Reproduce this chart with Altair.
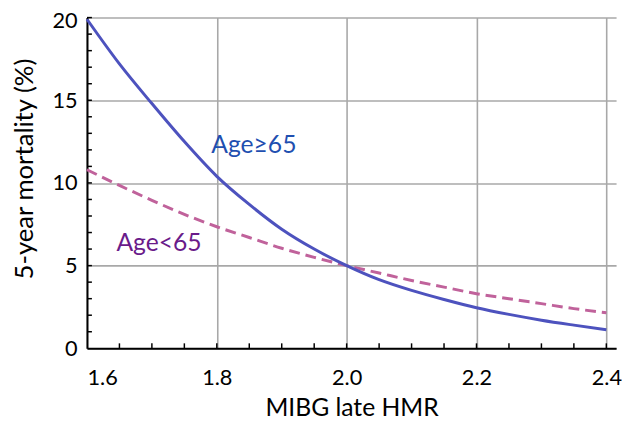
import altair as alt
import pandas as pd

hmr = [1.60, 1.65, 1.70, 1.75, 1.80, 1.85, 1.90, 1.95, 2.00,
       2.05, 2.10, 2.15, 2.20, 2.25, 2.30, 2.35, 2.40]
age_ge65 = [19.9, 17.2, 14.8, 12.5, 10.4, 8.7, 7.2, 6.0, 5.0,
            4.15, 3.5, 2.95, 2.45, 2.05, 1.7, 1.4, 1.12]
age_lt65 = [10.8, 9.85, 8.95, 8.1, 7.35, 6.7, 6.05, 5.5, 5.0,
            4.55, 4.1, 3.7, 3.3, 3.0, 2.7, 2.4, 2.15]

x_ticks = [1.6, 1.8, 2.0, 2.2, 2.4]
y_ticks = [0, 5, 10, 15, 20]
x_minor = [1.65, 1.70, 1.75, 1.80, 1.85, 1.90, 1.95, 2.00, 2.05, 2.10,
           2.15, 2.20, 2.25, 2.30, 2.35, 2.40]
y_minor = list(range(1, 21))

labels = ["Age\u226565", "Age<65"]
label_x = [1.857, 1.711]
label_y = [12.3, 6.35]
label_colors = ["#1f4fb0", "#6a1b8a"]

W, H = 536, 335
FONT = "Lato"

xs = alt.Scale(domain=[1.6, 2.415], nice=False, zero=False)
ys = alt.Scale(domain=[0, 20], nice=False)

df = pd.DataFrame({"hmr": hmr, "ge65": age_ge65, "lt65": age_lt65})

xaxis = alt.Axis(values=x_ticks, format=".1f", grid=True, gridColor="#a8a8a8",
                 gridWidth=1.6, gridOpacity=1, ticks=False, domainColor="#000",
                 domainWidth=2, labelFont=FONT, labelFontSize=22, labelColor="#000",
                 labelPadding=20, title="MIBG late HMR", titleFont=FONT,
                 titleFontSize=25, titleFontWeight="normal", titleColor="#000",
                 titlePadding=7)
yaxis = alt.Axis(values=y_ticks, grid=True, gridColor="#a8a8a8", gridWidth=1.6,
                 gridOpacity=1, ticks=False, domainColor="#000", domainWidth=2,
                 labelFont=FONT, labelFontSize=22, labelColor="#000", labelPadding=10,
                 labelOffset={"condition": {"test": "datum.value == 20", "value": 3}, "value": 0},
                 title="5-year mortality (%)", titleFont=FONT, titleFontSize=26,
                 titleFontWeight="normal", titleColor="#000", titlePadding=15,
                 titleY=153)

base = alt.Chart(df)

line65 = base.mark_line(color="#4d52be", strokeWidth=3, interpolate="monotone").encode(
    x=alt.X("hmr:Q", scale=xs, axis=xaxis),
    y=alt.Y("ge65:Q", scale=ys, axis=yaxis),
)
line_lt = base.mark_line(color="#c0629b", strokeWidth=3, strokeDash=[11, 6],
                         interpolate="monotone").encode(
    x=alt.X("hmr:Q", scale=xs),
    y=alt.Y("lt65:Q", scale=ys),
)

xt = alt.Chart(pd.DataFrame({"v": x_minor})).mark_rule(color="#000", strokeWidth=1.5).encode(
    x=alt.X("v:Q", scale=xs), y=alt.value(H), y2=alt.value(H - 5))
yt = alt.Chart(pd.DataFrame({"v": y_minor})).mark_rule(color="#000", strokeWidth=1.5).encode(
    y=alt.Y("v:Q", scale=ys), x=alt.value(0), x2=alt.value(5))

ldf = pd.DataFrame({"t": labels, "x": label_x, "y": label_y, "c": label_colors})
txt = alt.Chart(ldf).mark_text(font=FONT, fontSize=25, align="center", baseline="middle").encode(
    x=alt.X("x:Q", scale=xs), y=alt.Y("y:Q", scale=ys), text="t:N",
    color=alt.Color("c:N", scale=None))

chart = alt.layer(line_lt, line65, xt, yt, txt).properties(
    width=W, height=H,
    autosize=alt.AutoSizeParams(type="none"),
    padding={"left": 80, "top": 7, "right": 6, "bottom": 74},
).configure_view(stroke=None)

chart.save("out.html", embed_options={"renderer": "svg", "actions": False})
